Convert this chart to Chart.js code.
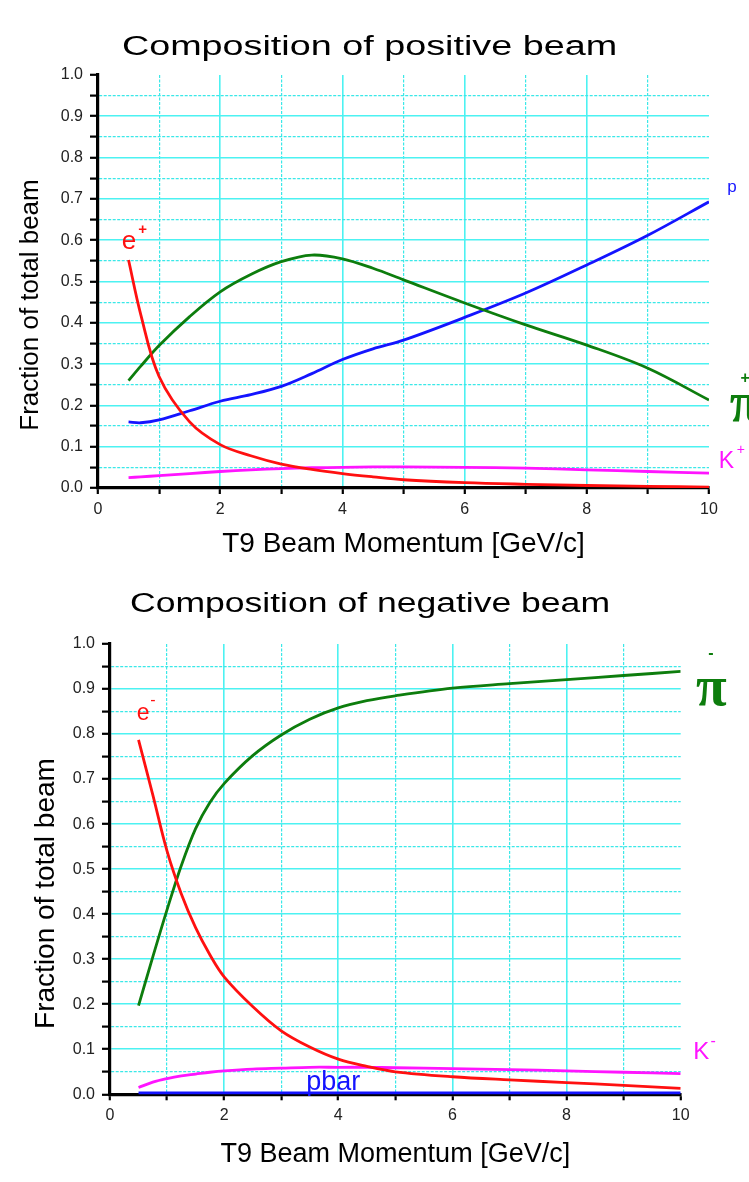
<!DOCTYPE html>
<html>
<head>
<meta charset="utf-8">
<script src="https://cdn.jsdelivr.net/npm/chart.js@4.4.1/dist/chart.umd.min.js"></script>
<style>
  html, body { margin: 0; padding: 0; background: #fff; }
  #wrap { position: relative; width: 749px; height: 1182px; }
  canvas { position: absolute; left: 0; }
  #posChart { top: 0; }
  #negChart { top: 575px; }
</style>
</head>
<body>
<div id="wrap">
  <canvas id="posChart" width="749" height="575"></canvas>
  <canvas id="negChart" width="749" height="607"></canvas>
</div>
<script>
// positive beam, T9 momentum in GeV/c
const posMomentum = [0.5, 0.7, 1, 1.5, 2, 2.5, 3, 3.5, 4, 4.5, 5, 6, 7, 8, 9, 10];
const posElectron = [0.552, 0.42, 0.27, 0.16, 0.105, 0.078, 0.058, 0.045, 0.035, 0.027, 0.02, 0.013, 0.009, 0.006, 0.004, 0.002];
const posPion     = [0.26, 0.295, 0.345, 0.415, 0.475, 0.517, 0.548, 0.564, 0.555, 0.532, 0.504, 0.448, 0.395, 0.346, 0.29, 0.213];
const posProton   = [0.16, 0.158, 0.165, 0.187, 0.21, 0.226, 0.246, 0.277, 0.311, 0.337, 0.358, 0.413, 0.472, 0.54, 0.612, 0.693];
const posKaon     = [0.025, 0.027, 0.03, 0.035, 0.04, 0.044, 0.047, 0.049, 0.05, 0.051, 0.051, 0.05, 0.048, 0.044, 0.04, 0.036];

// negative beam
const negMomentum = [0.5, 0.75, 1, 1.25, 1.5, 1.75, 2, 2.5, 3, 3.5, 4, 4.5, 5, 6, 7, 8, 9, 10];
const negElectron = [0.787, 0.665, 0.54, 0.445, 0.37, 0.31, 0.261, 0.195, 0.141, 0.105, 0.078, 0.062, 0.05, 0.039, 0.032, 0.026, 0.02, 0.013];
const negPion     = [0.197, 0.305, 0.41, 0.508, 0.59, 0.648, 0.69, 0.752, 0.798, 0.833, 0.858, 0.874, 0.885, 0.902, 0.912, 0.921, 0.93, 0.939];
const negKaon     = [0.015, 0.027, 0.035, 0.041, 0.045, 0.049, 0.052, 0.056, 0.058, 0.06, 0.06, 0.06, 0.059, 0.057, 0.055, 0.052, 0.049, 0.046];
const negAntiProton = [0.002, 0.002, 0.002, 0.002, 0.002, 0.002, 0.002, 0.002, 0.002, 0.002, 0.002, 0.002, 0.002, 0.002, 0.002, 0.002, 0.002, 0.002];

const RED = '#ff1010';
const GREEN = '#0d7d0d';
const BLUE = '#1414ff';
const MAGENTA = '#ff14ff';
const GRID_MAJOR = '#4cf2f2';
const GRID_MINOR = '#3ae8e8';
const SANS = '"Liberation Sans", Arial, sans-serif';
const SERIF = '"Liberation Serif", "Times New Roman", serif';

const toPoints = (xs, ys) => xs.map((x, i) => ({ x: x, y: ys[i] }));
const isMajorY = (v) => Math.round(v * 100) % 10 === 0;

function line(values, xs, color, width) {
  return {
    data: toPoints(xs, values),
    borderColor: color,
    borderWidth: width || 2.8,
    pointRadius: 0,
    tension: 0.35,
    fill: false,
  };
}

// titles and curve labels, drawn on the canvas after the chart
const beamText = {
  id: 'beamText',
  afterDraw(chart, args, opts) {
    const ctx = chart.ctx;
    const xs = chart.scales.x;
    const ys = chart.scales.y;
    ctx.save();
    ctx.fillStyle = '#000';
    ctx.font = opts.titleFont;
    ctx.textAlign = 'center';
    ctx.textBaseline = 'alphabetic';
    ctx.translate(opts.titleX, opts.titleY);
    ctx.scale(opts.titleStretch, 1);
    ctx.fillText(opts.title, 0, 0);
    ctx.restore();

    ctx.save();
    ctx.fillStyle = '#000';
    ctx.font = opts.yTitleFont;
    ctx.textAlign = 'center';
    ctx.textBaseline = 'middle';
    ctx.translate(opts.yTitleX, opts.yTitleY);
    ctx.rotate(-Math.PI / 2);
    ctx.fillText('Fraction of total beam', 0, 0);
    ctx.restore();

    opts.labels.forEach((l) => {
      ctx.save();
      ctx.fillStyle = l.color;
      ctx.font = l.font;
      ctx.textAlign = l.center ? 'center' : 'left';
      ctx.textBaseline = l.center ? 'middle' : 'alphabetic';
      ctx.fillText(l.text, xs.getPixelForValue(l.x), ys.getPixelForValue(l.y));
      ctx.restore();
    });
  }
};

function makeOptions(box, text) {
  return {
    responsive: false,
    animation: false,
    events: [],
    layout: { padding: { left: 0, right: box.right, top: box.top, bottom: box.bottom } },
    scales: {
      x: {
        type: 'linear',
        min: 0,
        max: 10,
        afterFit: (scale) => { scale.height = box.xHeight; },
        ticks: {
          stepSize: 1,
          maxTicksLimit: 12,
          autoSkip: false,
          maxRotation: 0,
          padding: 6,
          color: '#222',
          font: { family: SANS, size: 16 },
          callback: (v) => (v % 2 === 0 ? String(v) : ''),
        },
        grid: {
          color: (ctx) => {
            if (!ctx.tick) return GRID_MAJOR;
            const v = ctx.tick.value;
            if (v >= 10) return 'rgba(0,0,0,0)';
            return v % 2 === 0 ? GRID_MAJOR : GRID_MINOR;
          },
          lineWidth: (ctx) => (ctx.tick && ctx.tick.value % 2 !== 0 ? 1.2 : 1.6),
          tickColor: '#000',
          tickWidth: 2.2,
          tickLength: 6,
        },
        border: {
          color: '#000',
          width: 3.2,
          dash: (ctx) => (ctx.tick && ctx.tick.value % 2 !== 0 ? [3, 1.5] : []),
        },
        title: {
          display: true,
          text: 'T9 Beam Momentum [GeV/c]',
          color: '#000',
          padding: 0,
          font: { family: SANS, size: box.xTitleSize },
        },
      },
      y: {
        type: 'linear',
        min: 0,
        max: 1,
        afterFit: (scale) => { scale.width = box.left; },
        ticks: {
          stepSize: 0.05,
          maxTicksLimit: 25,
          autoSkip: false,
          padding: 7,
          color: '#222',
          font: { family: SANS, size: 16 },
          callback: (v) => (isMajorY(v) ? v.toFixed(1) : ''),
        },
        grid: {
          color: (ctx) => {
            if (!ctx.tick) return GRID_MAJOR;
            const v = ctx.tick.value;
            if (v >= 0.999) return 'rgba(0,0,0,0)';
            return isMajorY(v) ? GRID_MAJOR : GRID_MINOR;
          },
          lineWidth: (ctx) => (ctx.tick && !isMajorY(ctx.tick.value) ? 1.2 : 1.6),
          tickColor: '#000',
          tickWidth: 2.2,
          tickLength: 8,
        },
        border: {
          color: '#000',
          width: 3.2,
          dash: (ctx) => (ctx.tick && !isMajorY(ctx.tick.value) ? [3, 1.5] : []),
        },
      },
    },
    plugins: {
      legend: { display: false },
      tooltip: { enabled: false },
      beamText: text,
    },
  };
}

new Chart(document.getElementById('posChart'), {
  type: 'line',
  data: {
    datasets: [
      line(posElectron, posMomentum, RED),
      line(posPion, posMomentum, GREEN),
      line(posProton, posMomentum, BLUE),
      line(posKaon, posMomentum, MAGENTA),
    ]
  },
  options: makeOptions(
    { left: 98, right: 40, top: 75, bottom: 14.2, xHeight: 72.8, xTitleSize: 28 },
    {
      title: 'Composition of positive beam',
      titleFont: '27px ' + SANS,
      titleX: 369.5,
      titleY: 55,
      titleStretch: 1.398,
      yTitleFont: '26px ' + SANS,
      yTitleX: 31,
      yTitleY: 305,
      labels: [
        { text: 'e', x: 0.39, y: 0.579, color: RED, font: '26px ' + SANS },
        { text: '+', x: 0.73, y: 0.626, color: RED, font: 'bold 15px ' + SANS, center: true },
        { text: 'p', x: 10.3, y: 0.717, color: BLUE, font: '17px ' + SANS },
        { text: 'π', x: 10.34, y: 0.162, color: GREEN, font: 'bold 56px ' + SERIF },
        { text: '+', x: 10.59, y: 0.266, color: GREEN, font: 'bold 16px ' + SANS, center: true },
        { text: 'K', x: 10.16, y: 0.048, color: MAGENTA, font: '23px ' + SANS },
        { text: '+', x: 10.52, y: 0.092, color: MAGENTA, font: '14px ' + SANS, center: true },
      ],
    }
  ),
  plugins: [beamText],
});

new Chart(document.getElementById('negChart'), {
  type: 'line',
  data: {
    datasets: [
      line(negElectron, negMomentum, RED),
      line(negPion, negMomentum, GREEN),
      line(negKaon, negMomentum, MAGENTA),
      line(negAntiProton, negMomentum, BLUE, 4),
    ]
  },
  options: makeOptions(
    { left: 110, right: 68.3, top: 69, bottom: 11.3, xHeight: 76.4, xTitleSize: 27 },
    {
      title: 'Composition of negative beam',
      titleFont: '27px ' + SANS,
      titleX: 370,
      titleY: 37,
      titleStretch: 1.316,
      yTitleFont: '28px ' + SANS,
      yTitleX: 46,
      yTitleY: 318.5,
      labels: [
        { text: 'e', x: 0.47, y: 0.832, color: RED, font: '23px ' + SANS },
        { text: '-', x: 0.75, y: 0.875, color: RED, font: '16px ' + SANS, center: true },
        { text: 'π', x: 10.27, y: 0.865, color: GREEN, font: 'bold 56px ' + SERIF },
        { text: '-', x: 10.53, y: 0.979, color: GREEN, font: 'bold 16px ' + SANS, center: true },
        { text: 'K', x: 10.22, y: 0.078, color: MAGENTA, font: '24px ' + SANS },
        { text: '-', x: 10.57, y: 0.117, color: MAGENTA, font: '16px ' + SANS, center: true },
        { text: 'pbar', x: 3.44, y: 0.0096, color: BLUE, font: '27px ' + SANS },
      ],
    }
  ),
  plugins: [beamText],
});
</script>
</body>
</html>
